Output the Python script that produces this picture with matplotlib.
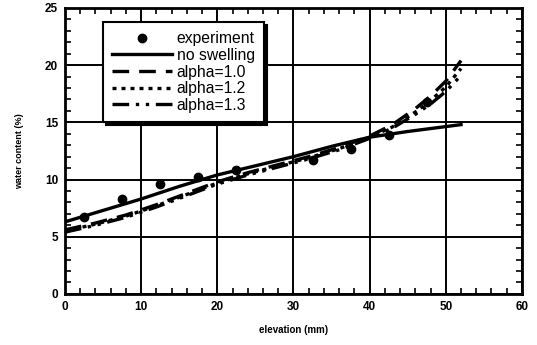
import numpy as np
import matplotlib
matplotlib.use("Agg")
from matplotlib import pyplot as plt
from matplotlib.ticker import MultipleLocator

plt.rcParams['font.family'] = ['Liberation Sans', 'DejaVu Sans']

# Measured water content along the sample.
exp_x = [2.5, 7.5, 12.5, 17.5, 22.5, 32.5, 37.5, 42.5, 47.5]
exp_y = [6.7, 8.3, 9.6, 10.2, 10.8, 11.7, 12.7, 13.9, 16.8]

# Model without swelling.
ns_x = [0, 5, 10, 15, 20, 25, 30, 35, 40, 45, 52]
ns_y = [6.3, 7.3, 8.3, 9.4, 10.4, 11.2, 12.0, 12.9, 13.7, 14.2, 14.8]

# Swelling models.
sw_x = [0, 4, 8, 12, 16, 20, 24, 28, 32, 36, 40, 43, 46, 48, 50, 52]
a10_y = [5.6, 6.2, 6.9, 7.8, 8.8, 9.8, 10.6, 11.3, 12.0, 12.8, 13.8, 14.8, 16.2, 17.3, 18.6, 20.4]
a12_y = [5.5, 6.1, 6.8, 7.7, 8.7, 9.7, 10.5, 11.2, 11.9, 12.7, 13.7, 14.6, 15.9, 16.9, 18.1, 19.7]
a13_y = [5.4, 6.0, 6.7, 7.6, 8.6, 9.6, 10.4, 11.1, 11.8, 12.6, 13.6, 14.5, 15.7, 16.6, 17.7, 19.1]

fig = plt.figure(figsize=(5.37, 3.45), dpi=100)
ax = fig.add_axes([0.121, 0.148, 0.851, 0.829])

lw = 2.4
ax.plot(exp_x, exp_y, 'o', color='black', markersize=6, label='experiment', zorder=5)
ax.plot(ns_x, ns_y, '-', color='black', linewidth=lw, label='no swelling')
ax.plot(sw_x, a10_y, color='black', linewidth=lw, linestyle=(0, (5, 3)), label='alpha=1.0')
ax.plot(sw_x, a12_y, color='black', linewidth=lw, linestyle=(0, (1.2, 1.5)), label='alpha=1.2')
ax.plot(sw_x, a13_y, color='black', linewidth=lw, linestyle=(0, (5, 2, 1, 2, 1, 2)), label='alpha=1.3')

ax.set_xlim(0, 60)
ax.set_ylim(0, 25)
ax.xaxis.set_major_locator(MultipleLocator(10))
ax.xaxis.set_minor_locator(MultipleLocator(2))
ax.yaxis.set_major_locator(MultipleLocator(5))
ax.yaxis.set_minor_locator(MultipleLocator(1))
ax.grid(True, which='major', color='black', linewidth=1.4)
ax.set_axisbelow(True)
ax.tick_params(which='both', direction='in', top=True, right=True, width=1.2)
ax.tick_params(which='major', length=0, labelsize=8.5, pad=5)
ax.tick_params(which='minor', length=4)
for lab in ax.get_xticklabels() + ax.get_yticklabels():
    lab.set_fontweight('bold')
for s in ax.spines.values():
    s.set_linewidth(2)

ax.set_xlabel('elevation (mm)', fontsize=7, fontweight='bold', labelpad=9)
ax.set_ylabel('water content (%)', fontsize=6.5, fontweight='bold', labelpad=15)

# Legend box with a solid drop shadow.
leg = ax.legend(loc='upper left', bbox_to_anchor=(0.083, 0.951), borderaxespad=0,
                fontsize=11.3, handlelength=3.8, handletextpad=0.3, labelspacing=0.1,
                fancybox=False, edgecolor='black', framealpha=1,
                shadow={'color': 'black', 'alpha': 1}, borderpad=0.6)
leg.get_frame().set_linewidth(1.5)

fig.savefig('out.png', dpi=100)
